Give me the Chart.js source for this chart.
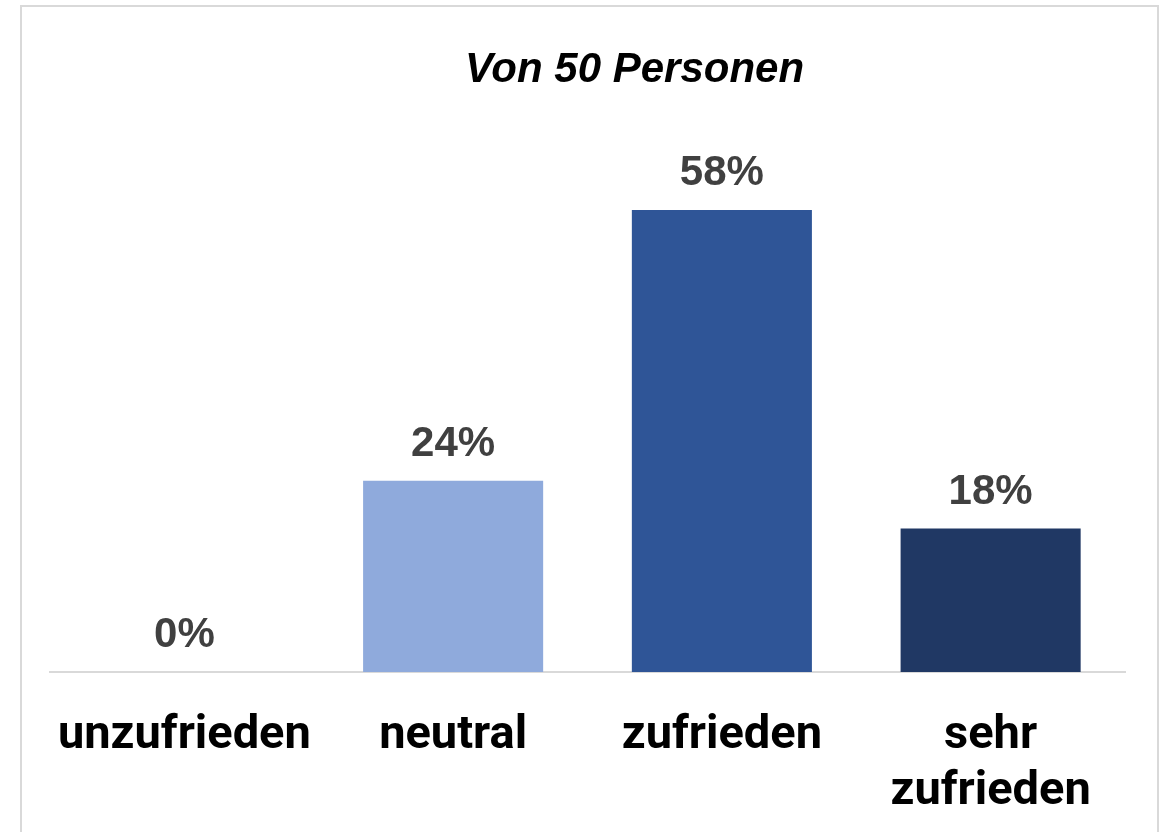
<!DOCTYPE html>
<html>
<head>
<meta charset="utf-8">
<script src="https://cdn.jsdelivr.net/npm/chart.js@4"></script>
<style>
  html, body { margin: 0; padding: 0; background: #ffffff; }
  #wrap { position: relative; width: 1163px; height: 832px; }
</style>
</head>
<body>
<div id="wrap"><canvas id="c" width="1163" height="832"></canvas></div>
<script>
const titleText = 'Von 50 Personen';
const categories = ['unzufrieden', 'neutral', 'zufrieden', ['sehr', 'zufrieden']];
const values = [0, 24, 58, 18];
const valueLabels = ['0%', '24%', '58%', '18%'];
const barColors = ['#8FAADC', '#8FAADC', '#2F5597', '#203864'];

const cardBorder = {
  id: 'cardBorder',
  beforeDraw(chart) {
    const ctx = chart.ctx;
    ctx.save();
    ctx.strokeStyle = '#D9D9D9';
    ctx.lineWidth = 2;
    ctx.strokeRect(21, 6, 1137, 900);
    ctx.restore();
  }
};

const titleShift = {
  id: 'titleShift',
  afterLayout(chart) {
    if (chart.titleBlock) {
      chart.titleBlock.left += 47;
      chart.titleBlock.right += 47;
    }
  }
};

const valueLabelPlugin = {
  id: 'valueLabelPlugin',
  afterDatasetsDraw(chart) {
    const ctx = chart.ctx;
    const meta = chart.getDatasetMeta(0);
    ctx.save();
    ctx.font = 'bold 42px "Liberation Sans", Arial, sans-serif';
    ctx.fillStyle = '#404040';
    ctx.textAlign = 'center';
    ctx.textBaseline = 'alphabetic';
    meta.data.forEach((bar, i) => {
      ctx.fillText(valueLabels[i], bar.x, bar.y - 25);
    });
    ctx.restore();
  }
};

new Chart(document.getElementById('c'), {
  type: 'bar',
  data: {
    labels: categories,
    datasets: [{
      data: values,
      backgroundColor: barColors,
      borderWidth: 0,
      categoryPercentage: 1.0,
      barPercentage: 0.67
    }]
  },
  options: {
    responsive: false,
    animation: false,
    events: [],
    layout: { padding: { top: 45, left: 50, right: 38, bottom: 0 } },
    plugins: {
      legend: { display: false },
      tooltip: { enabled: false },
      title: {
        display: true,
        text: titleText,
        color: '#000000',
        font: { family: '"Liberation Sans", Arial, sans-serif', size: 42, style: 'italic', weight: 'bold', lineHeight: 1.2 },
        padding: { top: 0, bottom: 19 }
      }
    },
    scales: {
      x: {
        grid: { display: false, drawTicks: false },
        border: { display: true, color: '#D9D9D9', width: 2 },
        ticks: {
          color: '#000000',
          padding: 36,
          maxRotation: 0,
          autoSkip: false,
          font: { family: 'Roboto, "Liberation Sans", sans-serif', size: 47, weight: 'bold', lineHeight: 1.2 }
        },
        afterFit(scale) { scale.height = 160; }
      },
      y: {
        display: false,
        min: 0,
        max: 70
      }
    }
  },
  plugins: [cardBorder, titleShift, valueLabelPlugin]
});
</script>
</body>
</html>
